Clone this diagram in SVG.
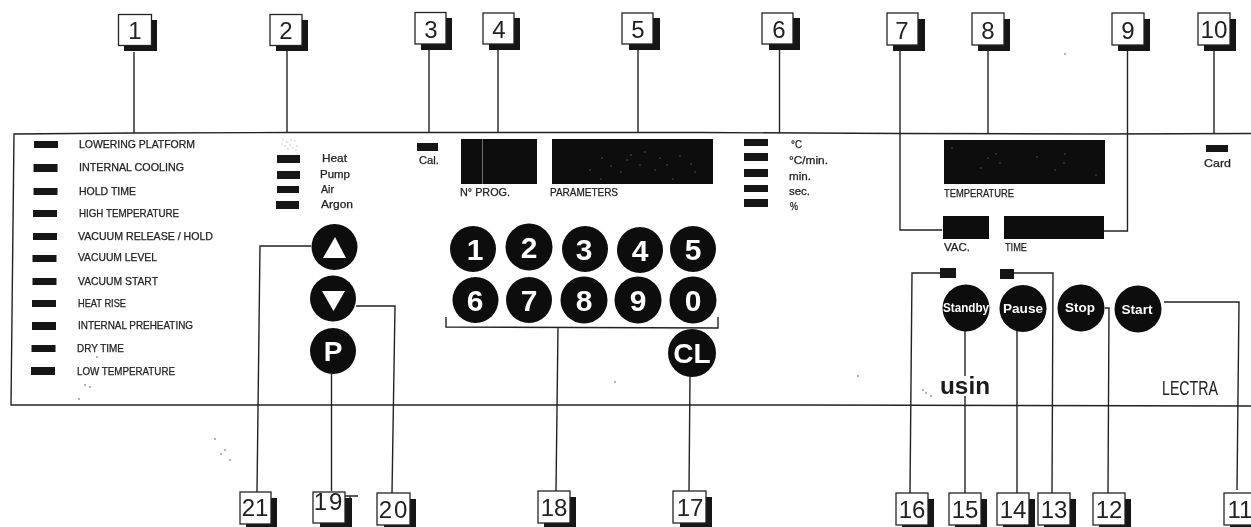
<svg xmlns="http://www.w3.org/2000/svg" width="1251" height="527" viewBox="0 0 1251 527">
<defs><filter id="scan" x="-2%" y="-2%" width="104%" height="104%"><feGaussianBlur stdDeviation="0.6"/></filter></defs>
<style>
.ln{fill:none;stroke:#222;stroke-width:1.4}
.sh{fill:#151515}
.bx{fill:#fff;stroke:#222;stroke-width:1.3}
.num{font:24px "Liberation Sans",Arial,sans-serif;fill:#222;text-anchor:middle}
.led{fill:#161616}
.disp{fill:#0c0c0c}
.lb{font:10.5px "Liberation Sans",Arial,sans-serif;fill:#222;stroke:#222;stroke-width:.25}
.btn{fill:#0b0b0b}
.dg{font:bold 30px "Liberation Sans",Arial,sans-serif;fill:#fff;text-anchor:middle}
.bt{font:bold 12.5px "Liberation Sans",Arial,sans-serif;fill:#fff;text-anchor:middle}
.spk{fill:none;stroke:#333;stroke-linecap:round;stroke-width:1.4}
.spw{fill:none;stroke:#bbb;stroke-linecap:round;stroke-width:1}
</style>
<rect width="1251" height="527" fill="#fff"/>
<g filter="url(#scan)">
<g id="panel"><path class="ln" d="M1251 133.500L1100 134L900 133.500L700 132.500L450 132.500L287 132.500L134 133L14 134L11 405L400 405L800 405L1251 406"/></g>
<g id="connectors">
<path class="ln" d="M134 52V133M287 51V132M429 50V132M498 50V132M638 50V132M779.500 50V133M988 51V134M1214 51V134"/>
<path class="ln" d="M900 51V230H942M1127.500 51V231H1104"/>
<path class="ln" d="M311 246H260L257 492M331.500 373V491M356 306H395L392 493"/>
<path class="ln" d="M446 317V327L718 328V317M558 327L556 491M690 376L689 491"/>
<path class="ln" d="M940 273H912L910 493M965 330V376M965 396V493M1017 330V493M1013 273H1053L1052 493M1105 308H1109L1108 493M1164 302H1239L1237 490"/>
</g>
<g id="n1"><rect class="sh" x="124" y="20" width="33" height="31"/><rect class="bx" x="118.500" y="14.500" width="33" height="31"/><text class="num" x="135" y="39">1</text></g>
<g id="n2"><rect class="sh" x="276" y="20" width="32" height="31"/><rect class="bx" x="270" y="14.500" width="32" height="31"/><text class="num" x="286" y="39">2</text></g>
<g id="n3"><rect class="sh" x="421" y="18" width="31" height="32"/><rect class="bx" x="415" y="12.500" width="31" height="31.500"/><text class="num" x="431" y="38">3</text></g>
<g id="n4"><rect class="sh" x="489" y="18" width="31" height="32"/><rect class="bx" x="483" y="13" width="31" height="31"/><text class="num" x="499" y="38">4</text></g>
<g id="n5"><rect class="sh" x="629" y="18" width="31" height="32"/><rect class="bx" x="622" y="13" width="31" height="31"/><text class="num" x="638" y="38">5</text></g>
<g id="n6"><rect class="sh" x="769" y="18" width="31" height="32"/><rect class="bx" x="762" y="13" width="31" height="31"/><text class="num" x="779" y="38">6</text></g>
<g id="n7"><rect class="sh" x="893" y="19" width="32" height="32"/><rect class="bx" x="887" y="13" width="31" height="32"/><text class="num" x="902" y="39">7</text></g>
<g id="n8"><rect class="sh" x="978" y="19" width="32" height="32"/><rect class="bx" x="972" y="13" width="32" height="32"/><text class="num" x="988" y="39">8</text></g>
<g id="n9"><rect class="sh" x="1118" y="19" width="32" height="32"/><rect class="bx" x="1112" y="13" width="32" height="32"/><text class="num" x="1128" y="39">9</text></g>
<g id="n10"><rect class="sh" x="1204" y="19" width="32" height="32"/><rect class="bx" x="1198" y="13" width="32" height="32"/><text class="num" x="1214" y="38" textLength="27" lengthAdjust="spacingAndGlyphs">10</text></g>

<g id="n21"><rect class="sh" x="246" y="498" width="31" height="29"/><rect class="bx" x="240" y="492" width="31" height="32"/><text class="num" x="255" y="516">21</text></g>
<g id="n19"><rect class="sh" x="320" y="498" width="32" height="29"/><path class="ln" d="M345 496H358M350 496V503"/><rect class="bx" x="313" y="492" width="32" height="31"/><text class="num" x="329" y="510" letter-spacing="2">19</text></g>
<g id="n20"><rect class="sh" x="384" y="499" width="32" height="28"/><rect class="bx" x="377" y="493" width="33" height="32"/><text class="num" x="394" y="518" letter-spacing="2">20</text></g>
<g id="n18"><rect class="sh" x="544" y="497" width="32" height="30"/><rect class="bx" x="538" y="491" width="32" height="32"/><text class="num" x="554" y="516">18</text></g>
<g id="n17"><rect class="sh" x="680" y="497" width="32" height="30"/><rect class="bx" x="673" y="491" width="33" height="32"/><text class="num" x="690" y="516">17</text></g>
<g id="n16"><rect class="sh" x="902" y="499" width="32" height="28"/><rect class="bx" x="896" y="493" width="32" height="32"/><text class="num" x="912" y="518">16</text></g>
<g id="n15"><rect class="sh" x="955" y="499" width="32" height="28"/><rect class="bx" x="949" y="493" width="32" height="32"/><text class="num" x="965" y="518">15</text></g>
<g id="n14"><rect class="sh" x="1003" y="499" width="32" height="28"/><rect class="bx" x="997" y="493" width="32" height="32"/><text class="num" x="1013" y="518">14</text></g>
<g id="n13"><rect class="sh" x="1044" y="499" width="32" height="28"/><rect class="bx" x="1038" y="493" width="32" height="32"/><text class="num" x="1054" y="518">13</text></g>
<g id="n12"><rect class="sh" x="1099" y="499" width="32" height="28"/><rect class="bx" x="1093" y="493" width="32" height="32"/><text class="num" x="1109" y="518">12</text></g>
<g id="n11"><rect class="sh" x="1230" y="499" width="32" height="28"/><rect class="bx" x="1224" y="493" width="32" height="32"/><text class="num" x="1240" y="518">11</text></g>

<g id="status-leds">
<rect class="led" x="34" y="141" width="24" height="7"/><text class="lb" x="79" y="148" textLength="116" lengthAdjust="spacingAndGlyphs">LOWERING PLATFORM</text>
<rect class="led" x="33.500" y="164" width="24" height="8"/><text class="lb" x="79" y="171" textLength="105" lengthAdjust="spacingAndGlyphs">INTERNAL COOLING</text>
<rect class="led" x="33.500" y="188" width="24" height="7"/><text class="lb" x="79" y="195" textLength="57" lengthAdjust="spacingAndGlyphs">HOLD TIME</text>
<rect class="led" x="33" y="210" width="24" height="7"/><text class="lb" x="79" y="217" textLength="100" lengthAdjust="spacingAndGlyphs">HIGH TEMPERATURE</text>
<rect class="led" x="33" y="233" width="24" height="7"/><text class="lb" x="78" y="240" textLength="135" lengthAdjust="spacingAndGlyphs">VACUUM RELEASE / HOLD</text>
<rect class="led" x="32.500" y="255" width="24" height="7"/><text class="lb" x="78" y="261" textLength="79" lengthAdjust="spacingAndGlyphs">VACUUM LEVEL</text>
<rect class="led" x="32.500" y="278" width="24" height="7"/><text class="lb" x="78" y="285" textLength="80" lengthAdjust="spacingAndGlyphs">VACUUM START</text>
<rect class="led" x="32" y="300" width="24" height="7"/><text class="lb" x="78" y="307" textLength="48" lengthAdjust="spacingAndGlyphs">HEAT RISE</text>
<rect class="led" x="32" y="322" width="24" height="8"/><text class="lb" x="78" y="329" textLength="115" lengthAdjust="spacingAndGlyphs">INTERNAL PREHEATING</text>
<rect class="led" x="31.500" y="345" width="24" height="7"/><text class="lb" x="77" y="352" textLength="47" lengthAdjust="spacingAndGlyphs">DRY TIME</text>
<rect class="led" x="31" y="367" width="24" height="8"/><text class="lb" x="77" y="375" textLength="98" lengthAdjust="spacingAndGlyphs">LOW TEMPERATURE</text>
</g>
<g id="pump-leds">
<path class="spk" style="stroke-width:.9;stroke:#777" d="M283 139h0M287 142h0M291 140h0M295 141h0M285 146h0M290 145h0M293 148h0M297 146h0M288 149h0M282 144h0M296 150h0"/>
<rect class="led" x="277" y="155" width="23" height="8"/><text class="lb" x="322" y="162" textLength="25" lengthAdjust="spacingAndGlyphs">Heat</text>
<rect class="led" x="277" y="171" width="23" height="8"/><text class="lb" x="320" y="178" textLength="30" lengthAdjust="spacingAndGlyphs">Pump</text>
<rect class="led" x="277" y="186" width="22" height="7"/><text class="lb" x="321" y="193" textLength="13" lengthAdjust="spacingAndGlyphs">Air</text>
<rect class="led" x="276" y="201" width="23" height="8"/><text class="lb" x="321" y="208" textLength="32" lengthAdjust="spacingAndGlyphs">Argon</text>
</g>
<g id="cal"><rect class="led" x="417" y="143" width="21" height="8"/><text class="lb" x="419" y="164" textLength="20" lengthAdjust="spacingAndGlyphs">Cal.</text></g>
<g id="prog-display"><rect class="disp" x="461" y="139" width="76" height="45"/><path d="M482.500 139V184" stroke="#888" stroke-width=".8"/><text class="lb" x="460" y="196" textLength="50" lengthAdjust="spacingAndGlyphs">N° PROG.</text></g>
<g id="param-display"><rect class="disp" x="552" y="139" width="161" height="45"/>
<path class="spw" d="M611 166h0M602 158h0M627 160h0M631 155h0M640 165h0M655 170h0M667 165h0M680 156h0M691 164h0M673 179h0M601 179h0M645 152h0M590 170h0M621 172h0M695 172h0M660 158h0"/>
<text class="lb" x="550" y="196" textLength="68" lengthAdjust="spacingAndGlyphs">PARAMETERS</text></g>
<g id="unit-leds">
<rect class="led" x="744" y="139" width="24" height="7"/><text class="lb" x="791" y="148" textLength="11" lengthAdjust="spacingAndGlyphs">°C</text>
<rect class="led" x="744" y="153" width="24" height="8"/><text class="lb" x="789" y="164" textLength="39" lengthAdjust="spacingAndGlyphs">°C/min.</text>
<rect class="led" x="744" y="169" width="24" height="8"/><text class="lb" x="789" y="180" textLength="22" lengthAdjust="spacingAndGlyphs">min.</text>
<rect class="led" x="744" y="185" width="24" height="7"/><text class="lb" x="789" y="195" textLength="21" lengthAdjust="spacingAndGlyphs">sec.</text>
<rect class="led" x="744" y="199" width="24" height="8"/><text class="lb" x="790" y="210" textLength="8" lengthAdjust="spacingAndGlyphs">%</text>
</g>
<g id="temp-display"><rect class="disp" x="944" y="140" width="161" height="44"/>
<path class="spw" d="M952 148h0M988 158h0M996 154h0M981 168h0M1000 163h0M1037 157h0M1065 154h0M1064 163h0M1055 170h0M1096 175h0"/>
<text class="lb" x="944" y="197" textLength="70" lengthAdjust="spacingAndGlyphs">TEMPERATURE</text></g>
<g id="vac-display"><rect class="disp" x="943" y="216" width="46" height="23"/><text class="lb" x="944" y="251" textLength="26" lengthAdjust="spacingAndGlyphs">VAC.</text></g>
<g id="time-display"><rect class="disp" x="1004" y="216" width="100" height="23"/><text class="lb" x="1005" y="251" textLength="22" lengthAdjust="spacingAndGlyphs">TIME</text></g>
<g id="card"><rect class="led" x="1206" y="145" width="22" height="7"/><text class="lb" x="1204" y="167" textLength="27" lengthAdjust="spacingAndGlyphs">Card</text></g>

<g id="btn-up"><circle class="btn" cx="334.500" cy="247" r="23"/><polygon fill="#fff" points="323,258 346,258 335,237"/></g>
<g id="btn-down"><circle class="btn" cx="333" cy="298.500" r="23"/><polygon fill="#fff" points="322,291 345,291 333.500,311"/></g>
<g id="btn-p"><circle class="btn" cx="333" cy="351" r="23"/><text class="dg" x="333" y="361" style="font-size:28px">P</text></g>
<g id="key1"><circle class="btn" cx="473" cy="249" r="23"/><text class="dg" x="475" y="260">1</text></g>
<g id="key2"><circle class="btn" cx="529" cy="247" r="23.500"/><text class="dg" x="529" y="258">2</text></g>
<g id="key3"><circle class="btn" cx="585" cy="249" r="23"/><text class="dg" x="584" y="260">3</text></g>
<g id="key4"><circle class="btn" cx="640" cy="250" r="23"/><text class="dg" x="640" y="261">4</text></g>
<g id="key5"><circle class="btn" cx="693" cy="249" r="23"/><text class="dg" x="693" y="260">5</text></g>
<g id="key6"><circle class="btn" cx="475.500" cy="300" r="23"/><text class="dg" x="475" y="311">6</text></g>
<g id="key7"><circle class="btn" cx="529" cy="300" r="23"/><text class="dg" x="529" y="311">7</text></g>
<g id="key8"><circle class="btn" cx="584" cy="300" r="23.500"/><text class="dg" x="584" y="311">8</text></g>
<g id="key9"><circle class="btn" cx="638" cy="300" r="23.500"/><text class="dg" x="638" y="311">9</text></g>
<g id="key0"><circle class="btn" cx="693" cy="300" r="23.500"/><text class="dg" x="693" y="311">0</text></g>
<g id="key-cl"><circle class="btn" cx="692" cy="353" r="24"/><text class="dg" x="692" y="363" style="font-size:28px">CL</text></g>

<g id="led16"><rect class="led" x="940" y="268" width="16" height="10"/></g>
<g id="led13"><rect class="led" x="1000" y="269" width="14" height="10"/></g>
<g id="btn-standby"><circle class="btn" cx="966" cy="308" r="23.500"/><text class="bt" x="966" y="312" textLength="46" lengthAdjust="spacingAndGlyphs">Standby</text></g>
<g id="btn-pause"><circle class="btn" cx="1023" cy="308.500" r="23.500"/><text class="bt" x="1023" y="313" textLength="40" lengthAdjust="spacingAndGlyphs">Pause</text></g>
<g id="btn-stop"><circle class="btn" cx="1081" cy="308" r="23.500"/><text class="bt" x="1080" y="312" textLength="30" lengthAdjust="spacingAndGlyphs">Stop</text></g>
<g id="btn-start"><circle class="btn" cx="1138" cy="309" r="23.500"/><text class="bt" x="1137" y="314" textLength="31" lengthAdjust="spacingAndGlyphs">Start</text></g>
<g id="logo"><text x="940" y="394" font-family="'Liberation Sans',Arial,sans-serif" font-size="23" font-weight="bold" fill="#1a1a1a" textLength="50" lengthAdjust="spacingAndGlyphs">usin</text></g>
<g id="brand"><text x="1162" y="395" font-family="'Liberation Sans',Arial,sans-serif" font-size="21" fill="#222" textLength="56" lengthAdjust="spacingAndGlyphs">LECTRA</text></g>
<path class="spk" d="M215 439h0M225 450h0M221 454h0M230 460h0M1065 54h0M615 382h0M858 376h0M923 390h0M931 396h0M926 393h0M85 385h0M90 387h0M79 399h0M97 357h0"/>
</g>
</svg>
